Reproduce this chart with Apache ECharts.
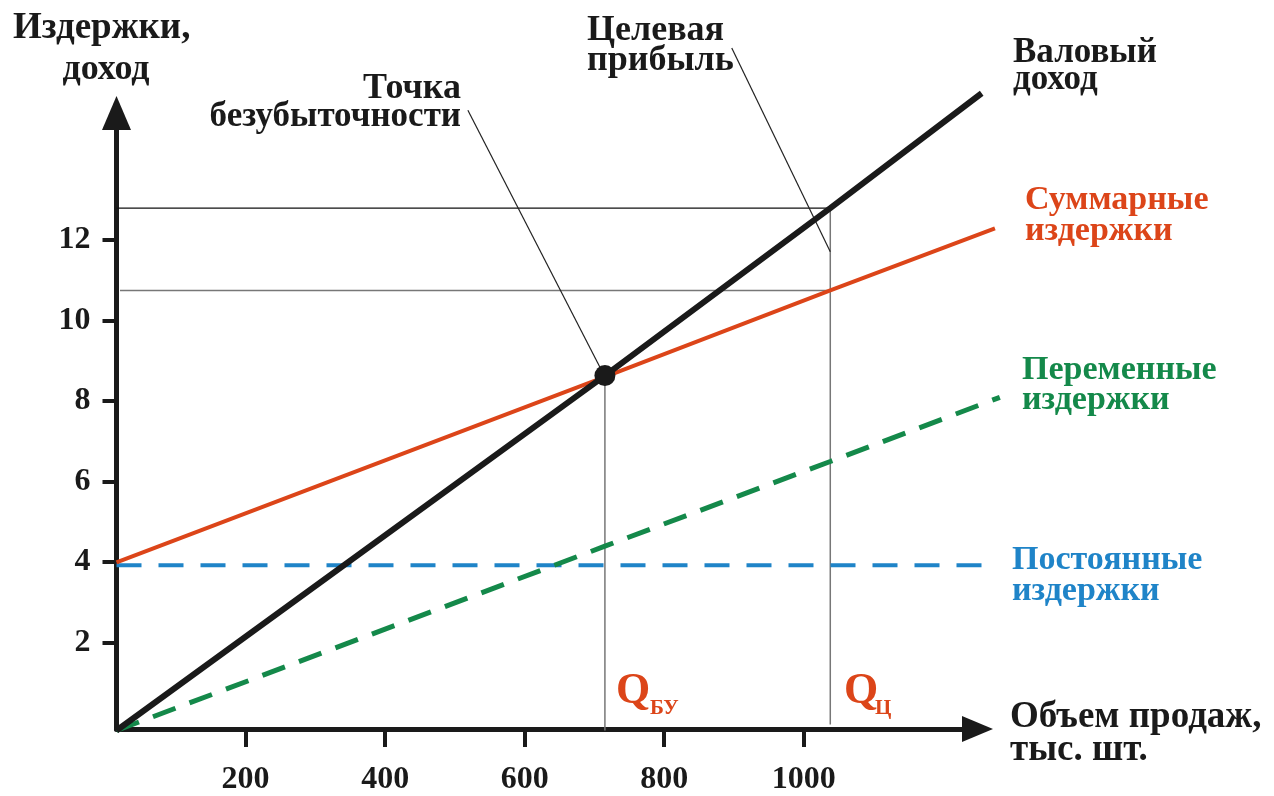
<!DOCTYPE html>
<html>
<head>
<meta charset="utf-8">
<script src="https://cdn.jsdelivr.net/npm/echarts@6/dist/echarts.min.js"></script>
<style>
html,body{margin:0;padding:0;background:#fff;}
#chart{width:1274px;height:796px;}
</style>
</head>
<body>
<div id="chart"></div>
<script>
// ---- data ----
const xTicks = [200, 400, 600, 800, 1000];
const yTicks = [2, 4, 6, 8, 10, 12];
const grossIncome = [[15, -0.15], [715, 8.65], [1038, 12.8], [1255, 15.65]];
const totalCosts = [[15, 4.02], [715, 8.62], [1038, 10.76], [1274, 12.3]];
const variableCosts = [[15, -0.15], [715, 4.42], [1038, 6.52], [1281, 8.11]];
const fixedCosts = [[15, 3.95], [1266, 3.95]];
const breakEven = [715, 8.65];
const targetQ = 1038;
const targetIncome = 12.8;
const targetCosts = 10.76;
const leaderBreakEven = [[518.6, 15.23], [707.7, 8.86]];
const leaderTarget = [[896.8, 16.77], [1038, 11.72]];

// axis ranges: visible axes and (same-scale) wider data area
const xAxisRange = [15, 1249];
const yAxisRange = [-0.15, 15.16];
const xDataRange = [15, 1290];
const yDataRange = [-0.15, 17];

const FONT = '"Liberation Serif", "Times New Roman", serif';
const BLACK = '#1a1a1a';
const RED = '#dc4519';
const GREEN = '#14894a';
const BLUE = '#1f84c8';

const chart = echarts.init(document.getElementById('chart'), null, {renderer: 'canvas'});

// geometry of the visible axes
const G = {left: 116.5, right: 296.5, top: 113, bottom: 65.5};
const plotW = 1274 - G.left - G.right;
const plotH = 796 - G.top - G.bottom;
const kx = plotW / (xAxisRange[1] - xAxisRange[0]);
const ky = plotH / (yAxisRange[1] - yAxisRange[0]);
const G2 = {
  left: G.left,
  bottom: G.bottom,
  right: G.right - (xDataRange[1] - xAxisRange[1]) * kx,
  top: G.top - (yDataRange[1] - yAxisRange[1]) * ky
};

function line(data, color, width, type, z) {
  return {
    type: 'line', data: data, symbol: 'none', silent: true, clip: false,
    animation: false, z: z || 2, xAxisIndex: 1, yAxisIndex: 1,
    lineStyle: {color: color, width: width, type: type || 'solid', cap: 'butt'}
  };
}

function txt(text, x, y, color, size, align) {
  return {
    type: 'text', silent: true,
    style: {
      text: text, x: x, y: y, fill: color,
      fontFamily: FONT, fontWeight: 'bold', fontSize: size,
      align: align || 'left', verticalAlign: 'middle'
    }
  };
}

const option = {
  animation: false,
  backgroundColor: '#ffffff',
  grid: [
    {left: G.left, right: G.right, top: G.top, bottom: G.bottom, containLabel: false},
    {left: G2.left, right: G2.right, top: G2.top, bottom: G2.bottom, containLabel: false}
  ],
  xAxis: [{
    type: 'value', gridIndex: 0, min: xAxisRange[0], max: xAxisRange[1],
    splitLine: {show: false},
    axisLine: {onZero: false, symbol: ['none', 'triangle'], symbolSize: [26, 31],
      lineStyle: {color: BLACK, width: 5}},
    axisTick: {show: true, customValues: xTicks, length: 18, lineStyle: {color: BLACK, width: 4}},
    axisLabel: {customValues: xTicks, margin: 35, color: BLACK, fontFamily: FONT,
      fontWeight: 'bold', fontSize: 32, formatter: function (v) { return String(v); }}
  }, {
    type: 'value', gridIndex: 1, min: xDataRange[0], max: xDataRange[1], show: false
  }],
  yAxis: [{
    type: 'value', gridIndex: 0, min: yAxisRange[0], max: yAxisRange[1],
    splitLine: {show: false},
    axisLine: {onZero: false, symbol: ['none', 'triangle'], symbolSize: [29, 34],
      lineStyle: {color: BLACK, width: 5}},
    axisTick: {show: true, customValues: yTicks, length: 14, lineStyle: {color: BLACK, width: 4}},
    axisLabel: {customValues: yTicks, margin: 26, color: BLACK, fontFamily: FONT,
      fontWeight: 'bold', fontSize: 32}
  }, {
    type: 'value', gridIndex: 1, min: yDataRange[0], max: yDataRange[1], show: false
  }],
  series: [
    // guide lines
    line([[15, targetIncome], [targetQ, targetIncome]], '#111', 1.2, 'solid', 1),
    line([[20, targetCosts], [targetQ, targetCosts]], '#777', 1.5, 'solid', 1),
    line([[breakEven[0], -0.15], [breakEven[0], breakEven[1]]], '#777', 1.5, 'solid', 1),
    line([[targetQ, 0], [targetQ, targetIncome]], '#777', 1.5, 'solid', 1),
    line(leaderBreakEven, '#222', 1.2, 'solid', 1),
    line(leaderTarget, '#222', 1.2, 'solid', 1),
    // main lines
    line(fixedCosts, BLUE, 4, [25, 17], 3),
    line(variableCosts, GREEN, 5, [24, 15], 3),
    line(totalCosts, RED, 4, 'solid', 4),
    line(grossIncome, BLACK, 6, 'solid', 5),
    {
      type: 'scatter', data: [breakEven], symbol: 'circle', symbolSize: 21,
      xAxisIndex: 1, yAxisIndex: 1,
      itemStyle: {color: BLACK, opacity: 1}, silent: true, z: 6, clip: false
    }
  ],
  graphic: [
    txt('Издержки,', 13, 28, BLACK, 37),
    txt('доход', 106, 70, BLACK, 36, 'center'),
    txt('Точка', 461, 89, BLACK, 36, 'right'),
    txt('безубыточности', 461, 117, BLACK, 35, 'right'),
    txt('Целевая', 587, 31, BLACK, 36),
    txt('прибыль', 587, 61, BLACK, 36),
    txt('Валовый', 1013, 53, BLACK, 35),
    txt('доход', 1013, 80, BLACK, 35),
    txt('Суммарные', 1025, 200, RED, 34),
    txt('издержки', 1025, 231, RED, 34),
    txt('Переменные', 1022, 370, GREEN, 34),
    txt('издержки', 1022, 400, GREEN, 34),
    txt('Постоянные', 1012, 560, BLUE, 34),
    txt('издержки', 1012, 591, BLUE, 34),
    txt('Объем продаж,', 1010, 717, BLACK, 37),
    txt('тыс. шт.', 1010, 750, BLACK, 37),
    txt('Q', 616, 692, RED, 44),
    txt('БУ', 650, 709, RED, 21),
    txt('Q', 844, 692, RED, 44),
    txt('Ц', 875, 709, RED, 21)
  ]
};
chart.setOption(option);
</script>
</body>
</html>
